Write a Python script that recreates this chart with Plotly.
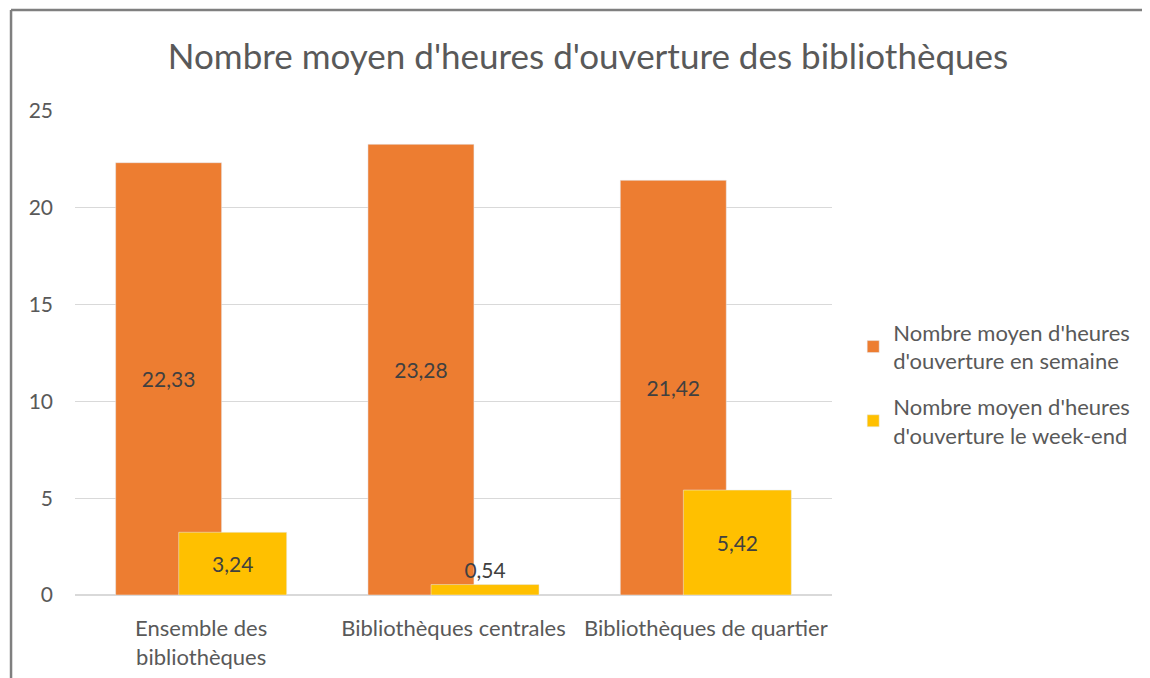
import plotly.graph_objects as go

# data
categories = ["Ensemble des<br>bibliothèques", "Bibliothèques centrales", "Bibliothèques de quartier"]
semaine = [22.33, 23.28, 21.42]
weekend = [3.24, 0.54, 5.42]
names = ["Nombre moyen d'heures<br>d'ouverture en semaine",
         "Nombre moyen d'heures<br>d'ouverture le week-end"]
yticks = [0, 5, 10, 15, 20, 25]

FONT = "Lato, 'Open Sans', sans-serif"
GREY = "#595959"

trace1 = go.Bar(x=categories, y=semaine, name=names[0], marker_color="#ED7D31",
                legendgroup="a", offset=-0.339, width=0.42,
                texttemplate="%{y:.2f}", textposition="inside", insidetextanchor="middle",
                textangle=0, constraintext="none",
                textfont=dict(color="#404040", size=21, family=FONT))
trace2 = go.Bar(x=categories, y=weekend, name=names[1], marker_color="#FFC000",
                legendgroup="b", offset=-0.089, width=0.428,
                texttemplate="%{y:.2f}", textposition=["inside", "outside", "inside"],
                insidetextanchor="middle", textangle=0, constraintext="none", cliponaxis=False,
                textfont=dict(color="#404040", size=21, family=FONT))

fig = go.Figure(data=[trace1, trace2])

# the page body has an 8px margin, figure sized to fill the rest of the window
W, H = 1142, 670
fig.update_layout(
    width=W, height=H,
    barmode="overlay",
    separators=", ",
    paper_bgcolor="white", plot_bgcolor="white",
    font=dict(family=FONT, color=GREY, size=21),
    margin=dict(l=67, r=W - 824, t=103, b=H - 587, autoexpand=False),
    title=dict(text="Nombre moyen d'heures d'ouverture des bibliothèques",
               x=580 / W, xanchor="center", y=1 - 49 / H, yanchor="middle",
               font=dict(size=35, color=GREY, family=FONT)),
    legend=dict(x=1.028, xanchor="left", y=0.436, yanchor="middle",
                font=dict(size=22, color=GREY, family=FONT),
                traceorder="grouped", tracegroupgap=14, itemwidth=30),
    showlegend=True,
)

fig.update_yaxes(range=[0, 25], tickvals=yticks, showgrid=True, gridcolor="#D9D9D9",
                 gridwidth=1, zeroline=True, zerolinecolor="#D9D9D9", showline=False,
                 automargin=False, ticks="", ticklabelstandoff=21,
                 tickfont=dict(size=21, color=GREY))
fig.update_xaxes(showline=False, ticks="", ticklabelstandoff=18, automargin=False,
                 tickfont=dict(size=22, color=GREY))

# frame around the chart (left and top edges visible)
frame = dict(color="#7F7F7F", width=2.5)
fig.add_shape(type="line", xref="paper", yref="paper",
              x0=-0.0845, x1=-0.0845, y0=-0.3, y1=1.2087, line=frame)
fig.add_shape(type="line", xref="paper", yref="paper",
              x0=-0.0845, x1=1.7, y0=1.2087, y1=1.2087, line=frame)

fig.write_html("out.html")
